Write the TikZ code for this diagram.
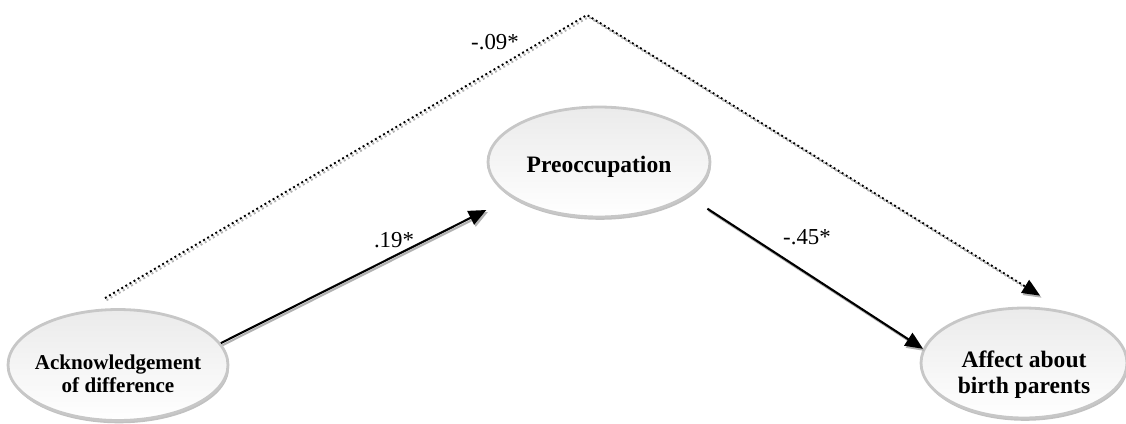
\documentclass[tikz,border=0pt]{standalone}
\usepackage{fontspec}
\setmainfont{Liberation Serif}
\usetikzlibrary{shapes.geometric,arrows.meta,shadows}
\begin{document}
\begin{tikzpicture}[x=0.02cm,y=-0.02cm,
  latent/.style={ellipse, draw=black!22, line width=1.6pt, top color=black!8, bottom color=white,
    drop shadow={shadow xshift=0.6pt, shadow yshift=-1.6pt, fill=black!35, opacity=0.7},
    inner sep=0pt},
  varlabel/.style={align=center, inner sep=0pt, font=\fontsize{13.4}{14.8}\selectfont\bfseries},
  smallvarlabel/.style={varlabel, font=\fontsize{12}{13.2}\selectfont\bfseries},
  coef/.style={font=\fontsize{13}{15}\selectfont, inner sep=1pt},
  path/.style={line width=1.2pt, -{Triangle[length=10pt,width=8.5pt]}},
  direct/.style={line width=1.1pt, dash pattern=on 1.1pt off 1.6pt, -{Triangle[length=10pt,width=8.5pt]}},
  ghost/.style={black!30, transform canvas={shift={(0.9pt,-1.2pt)}}}]
\useasboundingbox (0,0) rectangle (1126,423);

% latent variables
\node[latent, minimum width=4.4cm, minimum height=2.22cm,
  label={[smallvarlabel, yshift=-5pt]center:Acknowledgement\\of difference}] (ack) at (118,365) {};
\node[latent, minimum width=4.44cm, minimum height=2.2cm,
  label={[varlabel, yshift=-3pt]center:Preoccupation}] (pre) at (599,162) {};
\node[latent, minimum width=4.12cm, minimum height=2.2cm,
  label={[varlabel, yshift=-6.5pt]center:Affect about\\birth parents}] (aff) at (1024,363) {};

% apex of the direct path
\coordinate (peak) at (587,15);

% light offset copies under the connectors
\draw[path, ghost, shorten >=16pt] (ack.12) -- (pre.202);
\draw[path, ghost, shorten <=13pt] (pre.-21) -- (aff.172);
\draw[direct, ghost] ([shift={(-13,-10)}]ack.north) -- (peak) -- ([shift={(16,-11)}]aff.north);

% connectors
\draw[path, shorten >=16pt] (ack.12) -- (pre.202);
\draw[path, shorten <=13pt] (pre.-21) -- (aff.172);
\draw[direct] ([shift={(-13,-10)}]ack.north) -- (peak) -- ([shift={(16,-11)}]aff.north);

% path coefficients
\node[coef] (c1) at (394,240) {.19*};
\node[coef] (c2) at (807,237) {-.45*};
\node[coef] (c3) at (495,42) {-.09*};
\end{tikzpicture}
\end{document}
